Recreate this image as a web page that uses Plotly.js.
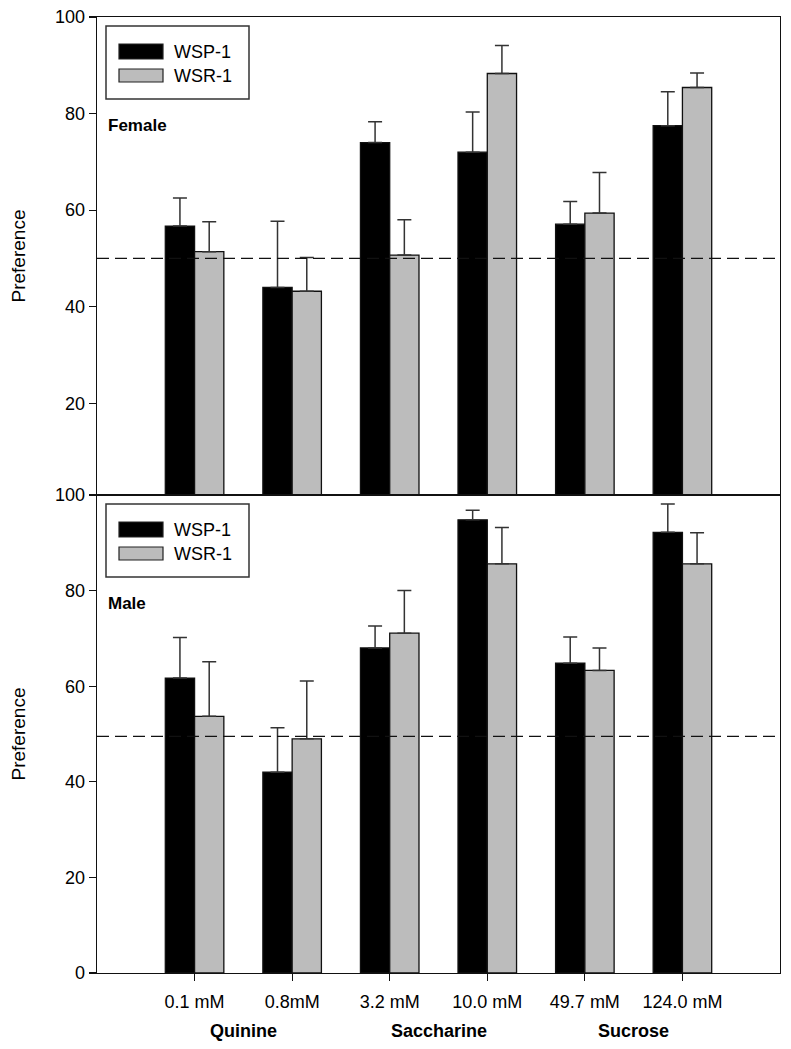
<!DOCTYPE html>
<html>
<head>
<meta charset="utf-8">
<script src="https://cdn.plot.ly/plotly-3.0.1.min.js"></script>
<style>html,body{margin:0;padding:0;background:#fff;}#chart{width:791px;height:1049px;}</style>
</head>
<body>
<div id="chart"></div>
<script>
// ---- data ----
const categories = ['0.1 mM', '0.8mM', '3.2 mM', '10.0 mM', '49.7 mM', '124.0 mM'];
const groupLabels = ['Quinine', 'Saccharine', 'Sucrose'];
const seriesNames = ['WSP-1', 'WSR-1'];
const panelNames = ['Female', 'Male'];

const femaleWSP = [56.7, 44.0, 74.0, 72.0, 57.1, 77.5];
const femaleWSPerr = [5.8, 13.7, 4.3, 8.3, 4.7, 7.0];
const femaleWSR = [51.4, 43.2, 50.7, 88.3, 59.4, 85.4];
const femaleWSRerr = [6.2, 7.0, 7.3, 5.8, 8.4, 3.0];

const maleWSP = [61.7, 42.0, 68.0, 94.8, 64.8, 92.2];
const maleWSPerr = [8.5, 9.3, 4.6, 2.0, 5.5, 5.9];
const maleWSR = [53.7, 49.0, 71.1, 85.6, 63.3, 85.6];
const maleWSRerr = [11.4, 12.1, 8.9, 7.6, 4.7, 6.5];

const chanceLevel = [50, 49.5];

// ---- styling ----
const FONT = 'Arial, "Liberation Sans", sans-serif';
const colors = ['#000000', '#bcbcbc'];
const M = {l: 97, r: 11, t: 17, b: 76};
const W = 791, H = 1049;
const plotW = W - M.l - M.r, plotH = H - M.t - M.b;
const panelH = plotH / 2;

function mkTrace(y, err, si, xa, ya) {
  return {
    type: 'bar', x: categories, y: y, name: seriesNames[si],
    xaxis: xa, yaxis: ya, showlegend: false,
    marker: {color: colors[si], line: {color: '#111', width: 1.3}},
    error_y: {type: 'data', symmetric: false, array: err,
              arrayminus: err.map(() => 0), color: '#333', thickness: 1.5, width: 7}
  };
}

const data = [
  mkTrace(femaleWSP, femaleWSPerr, 0, 'x', 'y'),
  mkTrace(femaleWSR, femaleWSRerr, 1, 'x', 'y'),
  mkTrace(maleWSP, maleWSPerr, 0, 'x2', 'y2'),
  mkTrace(maleWSR, maleWSRerr, 1, 'x2', 'y2')
];

// pixel helpers (relative to each panel's top-left corner)
const dx = px => (px - M.l) / plotW;
const dy = rel => 1 - rel / panelH;

const shapes = [];
const annotations = [];
[['x', 'y'], ['x2', 'y2']].forEach(([xa, ya], p) => {
  const xr = xa + ' domain', yr = ya + ' domain';
  // chance line
  shapes.push({type: 'line', xref: xr, yref: ya, x0: 0, x1: 1, y0: chanceLevel[p], y1: chanceLevel[p],
               line: {color: '#111', width: 1.3, dash: '12px,6px'}});
  // legend box
  shapes.push({type: 'rect', xref: xr, yref: yr, x0: dx(106), x1: dx(249), y0: dy(9), y1: dy(82),
               line: {color: '#333', width: 1.5}, fillcolor: '#fff'});
  const sw = [[27, 42], [52, 65]];
  seriesNames.forEach((nm, si) => {
    shapes.push({type: 'rect', xref: xr, yref: yr, x0: dx(119), x1: dx(163),
                 y0: dy(sw[si][0]), y1: dy(sw[si][1]),
                 line: {color: '#222', width: 1.2}, fillcolor: colors[si]});
    annotations.push({xref: xr, yref: yr, x: dx(172), y: dy((sw[si][0] + sw[si][1]) / 2),
                      xanchor: 'left', yanchor: 'middle', showarrow: false, text: nm,
                      font: {family: FONT, size: 18, color: '#000'}});
  });
  annotations.push({xref: xr, yref: yr, x: dx(106), y: dy(108), xanchor: 'left', yanchor: 'middle',
                    showarrow: false, text: '<b>' + panelNames[p] + '</b>',
                    font: {family: FONT, size: 17, color: '#000'}});
});

const groupSize = categories.length / groupLabels.length;
groupLabels.forEach((g, i) => {
  annotations.push({xref: 'x2', yref: 'y2 domain', x: i * groupSize + (groupSize - 1) / 2, y: 0,
                    yshift: -58, xanchor: 'center', yanchor: 'middle', showarrow: false,
                    text: '<b>' + g + '</b>', font: {family: FONT, size: 18, color: '#000'}});
});

const axisCommon = {showline: true, mirror: true, linecolor: '#111', linewidth: 1.3,
                    showgrid: false, zeroline: false,
                    tickfont: {family: FONT, size: 18, color: '#000'}};

const layout = {
  width: W, height: H, margin: M,
  paper_bgcolor: '#fff', plot_bgcolor: '#fff',
  barmode: 'group', bargap: 0.4, bargroupgap: 0,
  showlegend: false,
  font: {family: FONT, color: '#000'},
  xaxis: Object.assign({}, axisCommon, {domain: [0, 1], anchor: 'y', range: [-1, 6],
          showticklabels: false, ticks: '', matches: 'x2'}),
  xaxis2: Object.assign({}, axisCommon, {domain: [0, 1], anchor: 'y2', range: [-1, 6],
          ticks: 'outside', ticklen: 7, tickwidth: 1.2, tickcolor: '#111', ticklabelstandoff: 5}),
  yaxis: Object.assign({}, axisCommon, {domain: [0.5, 1], anchor: 'x', range: [1, 100],
          tickvals: [20, 40, 60, 80, 100], ticks: 'outside', ticklen: 7, tickwidth: 1.2, tickcolor: '#111',
          title: {text: 'Preference', font: {family: FONT, size: 19, color: '#000'}, standoff: 24}}),
  yaxis2: Object.assign({}, axisCommon, {domain: [0, 0.5], anchor: 'x2', range: [0, 100],
          tickvals: [0, 20, 40, 60, 80, 100], ticks: 'outside', ticklen: 7, tickwidth: 1.2, tickcolor: '#111',
          title: {text: 'Preference', font: {family: FONT, size: 19, color: '#000'}, standoff: 24}}),
  shapes: shapes,
  annotations: annotations
};

Plotly.newPlot('chart', data, layout, {staticPlot: true, displayModeBar: false});
</script>
</body>
</html>
